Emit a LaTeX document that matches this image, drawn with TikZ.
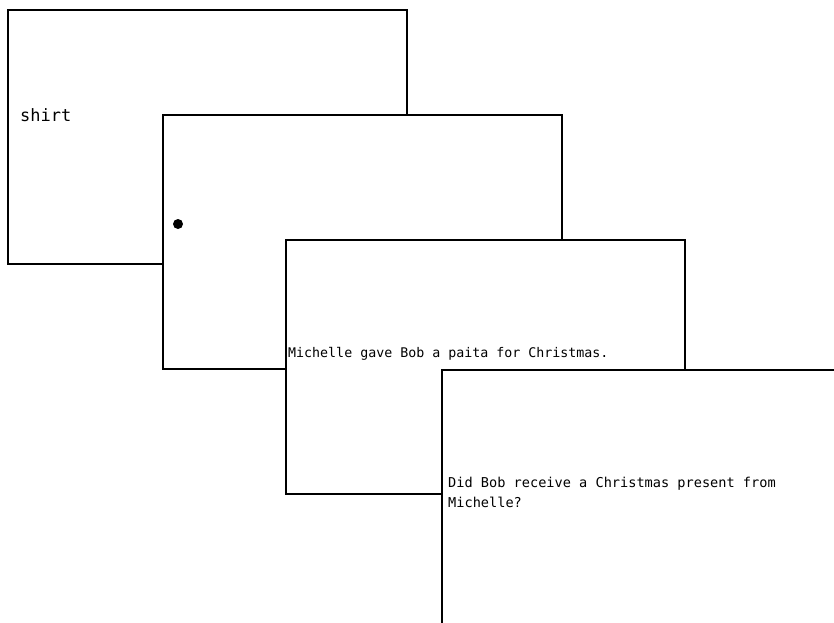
\documentclass[tikz,border=0pt]{standalone}
\usepackage{fontspec}
\newfontfamily\monofont{DejaVu Sans Mono}
\usetikzlibrary{positioning}

\begin{document}
\begin{tikzpicture}[
  x=1pt, y=-1pt,
  screen/.style={draw, line width=1.8pt, fill=white, anchor=north west,
                 minimum width=399pt, minimum height=254pt, inner sep=0pt},
  word/.style={font=\monofont\fontsize{17}{20}\selectfont, anchor=west, inner sep=0pt},
  sentence/.style={font=\monofont\fontsize{13.3}{20}\selectfont, anchor=west,
                   align=left, inner sep=0pt},
]
\useasboundingbox (0,0) rectangle (834,622);
\clip (0,0) rectangle (834,622);

% -- screens, back to front --
\node[screen] (s1) at (7,9)    {};
\node[screen] (s2) at (162,114) {};
\node[screen] (s3) at (285,239) {};
\node[screen, minimum width=400pt] (s4) at (441,369) {};

% -- screen contents --
\node[word] (target) at (20,115) {shirt};
\node[circle, fill, inner sep=0pt, minimum size=10pt] (fix) at (178,224) {};
\node[sentence] (story) at (288,354) {Michelle gave Bob a paita for Christmas.};
\node[sentence, font=\monofont\fontsize{13.6}{20}\selectfont, anchor=north west]
  (question) at (448,477) {Did Bob receive a Christmas present from\\Michelle?};

\end{tikzpicture}
\end{document}
